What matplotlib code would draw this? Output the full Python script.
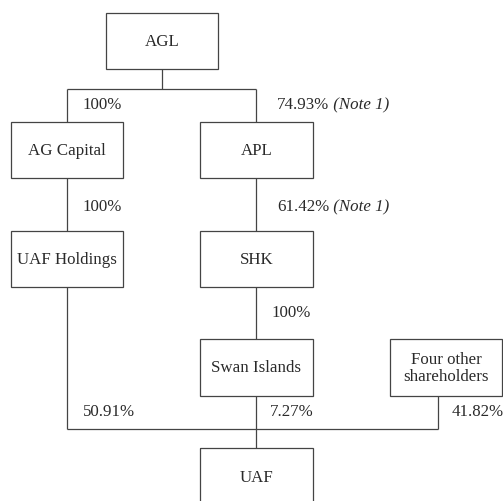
import matplotlib
matplotlib.use('Agg')
import matplotlib.pyplot as plt
from matplotlib.patches import Rectangle

# entities and ownership
names = ['AGL', 'AG Capital', 'APL', 'UAF Holdings', 'SHK',
         'Swan Islands', 'Four other\nshareholders', 'UAF']
stakes = ['100%', '74.93%', '100%', '61.42%', '100%',
          '50.91%', '7.27%', '41.82%']
notes = ['', ' (Note 1)', '', ' (Note 1)', '', '', '', '']

# box layout in pixels (left, top, width, height)
boxes = {
    'AGL': (106, 13, 112, 56),
    'AG Capital': (11, 122, 112, 56),
    'APL': (200, 122, 113, 56),
    'UAF Holdings': (11, 231, 112, 56),
    'SHK': (200, 231, 113, 56),
    'Swan Islands': (200, 339, 113, 57),
    'Four other\nshareholders': (390, 339, 112, 57),
    'UAF': (200, 448, 113, 58),
}

lc = '#444444'
tc = '#2a2a2a'
lw = 0.9

fig = plt.figure(figsize=(5.03, 5.01), dpi=100)
ax = fig.add_axes([0, 0, 1, 1])
ax.set_xlim(0, 503)
ax.set_ylim(501, 0)
ax.axis('off')

font = dict(family='Liberation Serif', size=12.2, color=tc)

for n in names:
    x, y, w, h = boxes[n]
    ax.add_patch(Rectangle((x, y), w, h, fill=False, ec=lc, lw=lw))
    ax.text(x + w / 2, y + h / 2 + 1, n, ha='center', va='center',
            linespacing=1.15, **font)

def line(xs, ys):
    ax.plot(xs, ys, color=lc, lw=lw, solid_capstyle='butt')

# AGL -> AG Capital / APL
line([162, 162], [69, 89])
line([67, 256], [89, 89])
line([67, 67], [89, 122])
line([256, 256], [89, 122])
# second level
line([67, 67], [178, 231])
line([256, 256], [178, 231])
# SHK -> Swan Islands
line([256, 256], [287, 339])
# into UAF
line([67, 67], [287, 429])
line([438, 438], [396, 429])
line([67, 438], [429, 429])
line([256, 256], [396, 448])

label_pos = [(83, 105), (277, 105), (83, 207), (277, 207), (272, 313),
             (83, 412), (270, 412), (452, 412)]
for (x, y), s, nt in zip(label_pos, stakes, notes):
    t = ax.text(x, y, s, ha='left', va='center', **font)
    if nt:
        fig.canvas.draw()
        bb = t.get_window_extent()
        x1 = ax.transData.inverted().transform((bb.x1, 0))[0]
        ax.text(x1, y, nt, ha='left', va='center', style='italic', **font)

fig.savefig('out.png', dpi=100)
